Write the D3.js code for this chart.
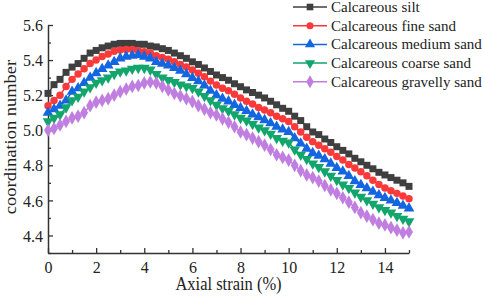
<!DOCTYPE html>
<html>
<head>
<meta charset="utf-8">
<script src="https://cdn.jsdelivr.net/npm/d3@7"></script>
<style>
  body { margin: 0; background: #fff; }
  svg { display: block; font-family: "Liberation Serif", "Times New Roman", serif; }
</style>
</head>
<body>
<div id="chart"></div>
<script>
// axial strain (%) at which every series was sampled
const strain = [0, 0.25, 0.5, 0.75, 1, 1.25, 1.5, 1.75, 2, 2.25, 2.5, 2.75, 3, 3.25, 3.5, 3.75,
    4, 4.25, 4.5, 4.75, 5, 5.25, 5.5, 5.75, 6, 6.25, 6.5, 6.75, 7, 7.25, 7.5, 7.75,
    8, 8.25, 8.5, 8.75, 9, 9.25, 9.5, 9.75, 10, 10.25, 10.5, 10.75, 11, 11.25, 11.5, 11.75,
    12, 12.25, 12.5, 12.75, 13, 13.25, 13.5, 13.75, 14, 14.25, 14.5, 14.75, 15];

const silt = [5.21, 5.26, 5.29, 5.33, 5.36, 5.38, 5.41, 5.44, 5.455, 5.47, 5.48, 5.49, 5.495, 5.495, 5.495, 5.49,
    5.49, 5.48, 5.475, 5.465, 5.455, 5.44, 5.425, 5.41, 5.39, 5.375, 5.355, 5.335, 5.315, 5.3, 5.285, 5.265,
    5.248, 5.23, 5.215, 5.2, 5.184, 5.165, 5.145, 5.125, 5.108, 5.08, 5.055, 5.02, 4.99, 4.975, 4.95, 4.93,
    4.906, 4.885, 4.865, 4.84, 4.82, 4.8, 4.78, 4.76, 4.745, 4.73, 4.715, 4.7, 4.68];

const fineSand = [5.14, 5.17, 5.2, 5.25, 5.29, 5.32, 5.35, 5.38, 5.4, 5.42, 5.435, 5.45, 5.457, 5.46, 5.46, 5.455,
    5.447, 5.44, 5.425, 5.415, 5.405, 5.39, 5.375, 5.36, 5.343, 5.325, 5.305, 5.28, 5.258, 5.24, 5.225, 5.205,
    5.184, 5.165, 5.15, 5.13, 5.115, 5.1, 5.08, 5.065, 5.05, 5.02, 4.99, 4.96, 4.935, 4.915, 4.895, 4.875,
    4.85, 4.83, 4.805, 4.785, 4.763, 4.74, 4.715, 4.69, 4.67, 4.655, 4.64, 4.625, 4.61];

const mediumSand = [5.1, 5.12, 5.14, 5.17, 5.22, 5.24, 5.27, 5.3, 5.326, 5.35, 5.37, 5.39, 5.41, 5.42, 5.425, 5.43,
    5.42, 5.41, 5.39, 5.38, 5.37, 5.355, 5.34, 5.32, 5.298, 5.28, 5.255, 5.225, 5.2, 5.18, 5.165, 5.145,
    5.127, 5.11, 5.09, 5.075, 5.058, 5.04, 5.02, 5.005, 4.99, 4.955, 4.925, 4.895, 4.87, 4.855, 4.835, 4.81,
    4.785, 4.765, 4.74, 4.71, 4.688, 4.67, 4.65, 4.63, 4.614, 4.6, 4.585, 4.57, 4.555];

const coarseSand = [5.05, 5.07, 5.09, 5.13, 5.17, 5.19, 5.22, 5.245, 5.27, 5.285, 5.3, 5.32, 5.334, 5.34, 5.35, 5.355,
    5.355, 5.345, 5.32, 5.3, 5.286, 5.275, 5.26, 5.25, 5.24, 5.22, 5.195, 5.17, 5.144, 5.125, 5.11, 5.09,
    5.07, 5.055, 5.035, 5.015, 5.0, 4.98, 4.955, 4.94, 4.93, 4.89, 4.86, 4.835, 4.81, 4.79, 4.765, 4.74,
    4.716, 4.69, 4.67, 4.645, 4.62, 4.6, 4.58, 4.56, 4.545, 4.53, 4.51, 4.495, 4.48];

const gravellySand = [5.0, 5.01, 5.03, 5.05, 5.07, 5.08, 5.1, 5.14, 5.16, 5.17, 5.18, 5.2, 5.22, 5.235, 5.25, 5.255,
    5.27, 5.275, 5.27, 5.25, 5.23, 5.21, 5.195, 5.18, 5.163, 5.14, 5.12, 5.1, 5.087, 5.065, 5.045, 5.02,
    4.99, 4.975, 4.955, 4.935, 4.915, 4.89, 4.86, 4.845, 4.83, 4.8, 4.77, 4.745, 4.73, 4.71, 4.685, 4.66,
    4.64, 4.615, 4.59, 4.56, 4.53, 4.51, 4.49, 4.47, 4.46, 4.445, 4.43, 4.415, 4.42];

const seriesNames = ["Calcareous silt", "Calcareous fine sand", "Calcareous medium sand",
    "Calcareous coarse sand", "Calcareous gravelly sand"];
const seriesValues = [silt, fineSand, mediumSand, coarseSand, gravellySand];
const colors = ["#3f3f3f", "#fa3a3a", "#1466e0", "#12a56c", "#c07fe0"];
const symbols = [d3.symbolSquare, d3.symbolCircle, d3.symbolTriangle, d3.symbolTriangle, d3.symbolDiamond];
const symbolSizes = [49, 44, 50, 50, 54];
const symbolRotate = [0, 0, 0, 180, 0];

const xTicks = [0, 2, 4, 6, 8, 10, 12, 14];
const yTicks = [4.4, 4.6, 4.8, 5.0, 5.2, 5.4, 5.6];

const W = 484, H = 296;
const margin = { top: 25, right: 75, bottom: 43, left: 48 };
const width = W - margin.left - margin.right;
const height = H - margin.top - margin.bottom;
const stretch = 1.1; // the figure text is a little taller than it is wide

const svg = d3.select('#chart').append('svg')
    .attr('width', W)
    .attr('height', H)
    .append('g')
    .attr('transform', `translate(${margin.left},${margin.top})`);

const xScale = d3.scaleLinear().domain([0, 15]).range([0, width]);
const yScale = d3.scaleLinear().domain([4.3, 5.6]).range([height, 0]);

// minor ticks first, then the major axes with labels
svg.append('g')
    .attr('transform', `translate(0,${height})`)
    .call(d3.axisBottom(xScale).tickValues(d3.range(1, 16, 2)).tickSize(-3).tickFormat(''))
    .call(g => g.select('.domain').remove());
svg.append('g')
    .call(d3.axisLeft(yScale).tickValues([4.3, 4.5, 4.7, 4.9, 5.1, 5.3, 5.5]).tickSize(-3).tickFormat(''))
    .call(g => g.select('.domain').remove());

svg.append('g')
    .attr('transform', `translate(0,${height})`)
    .call(d3.axisBottom(xScale)
        .tickValues(xTicks)
        .tickFormat(d3.format('d'))
        .tickSizeInner(-5)
        .tickSizeOuter(0)
        .tickPadding(7));

svg.append('g')
    .call(d3.axisLeft(yScale)
        .tickValues(yTicks)
        .tickFormat(d3.format('.1f'))
        .tickSizeInner(-5)
        .tickSizeOuter(0)
        .tickPadding(5));

svg.selectAll('.tick line').attr('stroke', '#333').attr('stroke-width', 1.3);
svg.selectAll('.domain').attr('stroke', '#333').attr('stroke-width', 1.5);
svg.selectAll('.tick text')
    .attr('font-family', '"Liberation Serif", serif')
    .attr('font-size', '16px')
    .attr('fill', '#222')
    .attr('transform', `scale(1,${stretch})`);

// series: line plus marker at every sample
seriesValues.forEach((vals, i) => {
    const pts = strain.map((s, j) => ({ s: s, v: vals[j] }));
    svg.append('path')
        .datum(pts)
        .attr('fill', 'none')
        .attr('stroke', colors[i])
        .attr('stroke-width', 1.5)
        .attr('d', d3.line().x(d => xScale(d.s)).y(d => yScale(d.v)));
    svg.append('g')
        .selectAll('path')
        .data(pts)
        .join('path')
        .attr('transform', d => `translate(${xScale(d.s)},${yScale(d.v)}) rotate(${symbolRotate[i]})`)
        .attr('d', d3.symbol().type(symbols[i]).size(symbolSizes[i]))
        .attr('fill', colors[i]);
});

// axis titles
svg.append('text')
    .attr('transform', `translate(${width / 2},${height + 37}) scale(1,${stretch})`)
    .attr('text-anchor', 'middle')
    .attr('font-size', '16.5px')
    .attr('fill', '#222')
    .text('Axial strain (%)');

svg.append('text')
    .attr('transform', `translate(${15.5 - margin.left},${137 - margin.top}) scale(1,${stretch + 0.02}) rotate(-90)`)
    .attr('text-anchor', 'middle')
    .attr('font-size', '16.5px')
    .attr('fill', '#222')
    .text('coordination number');

// legend
const legend = svg.append('g')
    .attr('transform', `translate(${293 - margin.left},${7 - margin.top})`);

seriesNames.forEach((name, i) => {
    const row = legend.append('g').attr('transform', `translate(0,${i * 18.7})`);
    row.append('line')
        .attr('x1', 0).attr('x2', 34)
        .attr('stroke', colors[i])
        .attr('stroke-width', 1.5);
    row.append('path')
        .attr('transform', `translate(17,0) rotate(${symbolRotate[i]})`)
        .attr('d', d3.symbol().type(symbols[i]).size(symbolSizes[i] * 0.9))
        .attr('fill', colors[i]);
    row.append('text')
        .attr('x', 38)
        .attr('dy', '0.33em')
        .attr('font-size', '15px')
        .attr('fill', '#222')
        .text(name);
});
</script>
</body>
</html>
